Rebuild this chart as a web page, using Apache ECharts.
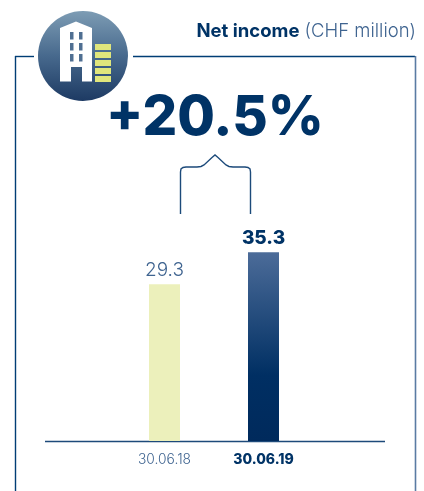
<!DOCTYPE html>
<html>
<head>
<meta charset="utf-8">
<style>html,body{margin:0;padding:0;background:#fff}#c{width:424px;height:491px}</style>
<script src="https://cdn.jsdelivr.net/npm/echarts@6/dist/echarts.min.js"></script>
</head>
<body>
<div id="c"></div>
<script>
const categories = ['30.06.18', '30.06.19'];
const netIncome = [29.3, 35.3];
const valueLabels = ['29.3', '35.3'];
const headline = '+20.5%';
const titleBold = 'Net income';
const titleLight = ' (CHF million)';

const NAVY = '#003366', MID = '#3f6490', FONT = 'Inter';
const chart = echarts.init(document.getElementById('c'), null, {renderer: 'canvas'});

const line = (x1, y1, x2, y2, stroke, lineWidth) => ({type: 'line', shape: {x1, y1, x2, y2}, style: {stroke, lineWidth}, z: 1});
const rect = (x, y, width, height, fill) => ({type: 'rect', shape: {x, y, width, height}, style: {fill}, z: 5});

const windows = [];
[[70, 32], [70, 43], [70, 54], [79, 32], [79, 43], [79, 54]].forEach(p => windows.push(rect(p[0], p[1], 3.5, 7.5, '#4f6f92')));
const stack = [44, 52, 60, 68, 76].map(y => rect(95, y, 16, 6, '#e0e67c'));

chart.setOption({
  animation: false,
  grid: {left: 115, width: 198, top: 227, height: 214, containLabel: false},
  xAxis: {
    type: 'category', data: categories,
    axisLine: {show: false}, axisTick: {show: false},
    axisLabel: {
      interval: 0, hideOverlap: false,
      margin: 12, fontFamily: FONT, fontSize: 14,
      formatter: (v, i) => i === 1 ? '{b|' + v + '}' : '{a|' + v + '}',
      rich: {
        a: {color: MID, fontFamily: FONT, fontSize: 13.8, fontWeight: 300},
        b: {color: NAVY, fontFamily: FONT, fontSize: 14, fontWeight: 800}
      }
    }
  },
  yAxis: {type: 'value', min: 0, max: 40, show: false},
  series: [{
    type: 'bar', barWidth: 31, z: 3,
    data: netIncome.map((v, i) => ({
      value: v,
      itemStyle: {color: i === 0 ? '#ecf0bb' : new echarts.graphic.LinearGradient(0, 0, 0, 1, [
        {offset: 0, color: '#4c6c99'}, {offset: 0.65, color: '#002f63'}, {offset: 1, color: '#002a5c'}
      ])},
      label: {
        show: true, position: 'top', distance: 4,
        formatter: valueLabels[i], fontFamily: FONT,
        color: i === 0 ? MID : NAVY,
        fontSize: 19,
        fontWeight: i === 0 ? 300 : 800
      }
    }))
  }],
  graphic: [
    line(15.5, 56, 15.5, 491, '#003d75', 1.4),
    line(15, 56.5, 34, 56.5, '#003d75', 1.4),
    line(133, 56.5, 415, 56.5, '#003d75', 1.4),
    line(415.5, 56, 415.5, 491, '#5a7ba3', 1.6),
    line(45, 441.5, 385, 441.5, '#1d4a7a', 1.4),
    {type: 'circle', shape: {cx: 83, cy: 56, r: 45}, z: 2, style: {fill: new echarts.graphic.LinearGradient(0, 0, 0, 1, [
      {offset: 0, color: '#7d9cb4'}, {offset: 0.5, color: '#47698d'}, {offset: 1, color: '#1d3a63'}
    ])}},
    {type: 'polygon', z: 4, shape: {points: [[60, 28], [76, 21.5], [92, 28], [92, 81.5], [82, 81.5], [82, 67], [71, 67], [71, 81.5], [60, 81.5]]}, style: {fill: '#ffffff'}},
    ...windows, ...stack,
    {type: 'text', z: 6, style: {x: 416, y: 31, align: 'right', verticalAlign: 'middle', rich: {
      b: {fill: NAVY, font: '700 18.5px ' + FONT},
      l: {fill: MID, font: '300 18.5px ' + FONT}
    }, text: '{b|' + titleBold + '}{l|' + titleLight + '}'}},
    {type: 'text', z: 6, style: {x: 215, y: 119, align: 'center', verticalAlign: 'middle', text: headline, fill: NAVY, font: '800 54.5px ' + FONT}},
    {type: 'polyline', z: 3, style: {fill: 'none', stroke: '#1c4a7a', lineWidth: 1.4},
      shape: {points: [[180.5, 214], [180.5, 172], [181, 169], [183, 167.5], [186, 167], [197, 167], [201, 166.5], [204, 165], [212, 157.5], [215, 155], [218, 157.5], [226, 165], [229, 166.5], [233, 167], [245, 167], [248, 167.5], [250, 169], [250.5, 172], [250.5, 214]]}}
  ]
});
</script>
</body>
</html>
